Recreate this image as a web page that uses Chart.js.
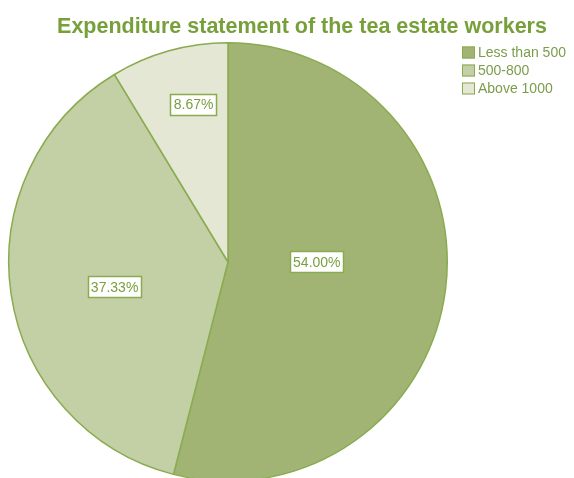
<!DOCTYPE html>
<html>
<head>
<meta charset="utf-8">
<script src="https://cdn.jsdelivr.net/npm/chart.js@4.4.1/dist/chart.umd.min.js"></script>
<style>
html,body{margin:0;padding:0;background:#fff;overflow:hidden;}
#wrap{position:relative;width:574px;height:500px;}
</style>
</head>
<body>
<div id="wrap"><canvas id="c" width="574" height="500"></canvas></div>
<script>
const titleText = "Expenditure statement of the tea estate workers";
const categories = ["Less than 500", "500-800", "Above 1000"];
const values = [54.00, 37.33, 8.67];
const valueLabels = ["54.00%", "37.33%", "8.67%"];
const sliceColors = ["#a1b474", "#c3cfa5", "#e3e7d4"];
// label placement (fraction of radius, angle offset in degrees from slice middle)
const labelRadius = [0.405, 0.53, 0.735];
const labelAngleOffset = [-7.2, -4.2, 3.3];

const green = "#7a9e3f";
const edge = "#8aab50";

const overlay = {
  id: "overlay",
  afterDraw(chart) {
    const ctx = chart.ctx;
    ctx.save();
    // title
    ctx.fillStyle = "#77a03b";
    ctx.textBaseline = "alphabetic";
    ctx.textAlign = "center";
    ctx.font = "bold 21.5px 'Liberation Sans', Arial, sans-serif";
    ctx.fillText(titleText, 302, 33);

    // legend
    ctx.textAlign = "left";
    ctx.textBaseline = "middle";
    ctx.font = "14px 'Liberation Sans', Arial, sans-serif";
    categories.forEach((c, i) => {
      const y = 52.5 + i * 18;
      ctx.fillStyle = sliceColors[i];
      ctx.fillRect(462, y - 6, 13, 12);
      ctx.strokeStyle = edge;
      ctx.lineWidth = 1;
      ctx.strokeRect(462.5, y - 5.5, 12, 11);
      ctx.fillStyle = "#7d9c4b";
      ctx.fillText(c, 478, y + 0.5);
    });

    // value labels
    const meta = chart.getDatasetMeta(0);
    ctx.font = "14px 'Liberation Sans', Arial, sans-serif";
    ctx.textAlign = "center";
    meta.data.forEach((arc, i) => {
      const p = arc.getProps(["x", "y", "startAngle", "endAngle", "outerRadius"], true);
      const mid = (p.startAngle + p.endAngle) / 2 + labelAngleOffset[i] * Math.PI / 180;
      const r = p.outerRadius * labelRadius[i];
      const x = p.x + Math.cos(mid) * r;
      const y = p.y + Math.sin(mid) * r;
      const txt = valueLabels[i];
      const w = Math.round(ctx.measureText(txt).width + 7);
      const h = 22;
      const bx = Math.round(x - w / 2), by = Math.round(y - h / 2);
      ctx.fillStyle = "#ffffff";
      ctx.fillRect(bx, by, w, h);
      ctx.strokeStyle = edge;
      ctx.lineWidth = 1.5;
      ctx.strokeRect(bx + 0.5, by + 0.5, w - 1, h - 1);
      ctx.fillStyle = green;
      ctx.fillText(txt, x, y + 1);
    });
    ctx.restore();
  }
};

new Chart(document.getElementById("c"), {
  type: "pie",
  data: {
    labels: categories,
    datasets: [{
      data: values,
      backgroundColor: sliceColors,
      borderColor: edge,
      borderWidth: 1.5
    }]
  },
  options: {
    responsive: false,
    animation: false,
    layout: { padding: { left: 8, right: 126, top: 42, bottom: 18 } },
    plugins: {
      legend: { display: false },
      title: { display: false },
      tooltip: { enabled: false }
    }
  },
  plugins: [overlay]
});
</script>
</body>
</html>
